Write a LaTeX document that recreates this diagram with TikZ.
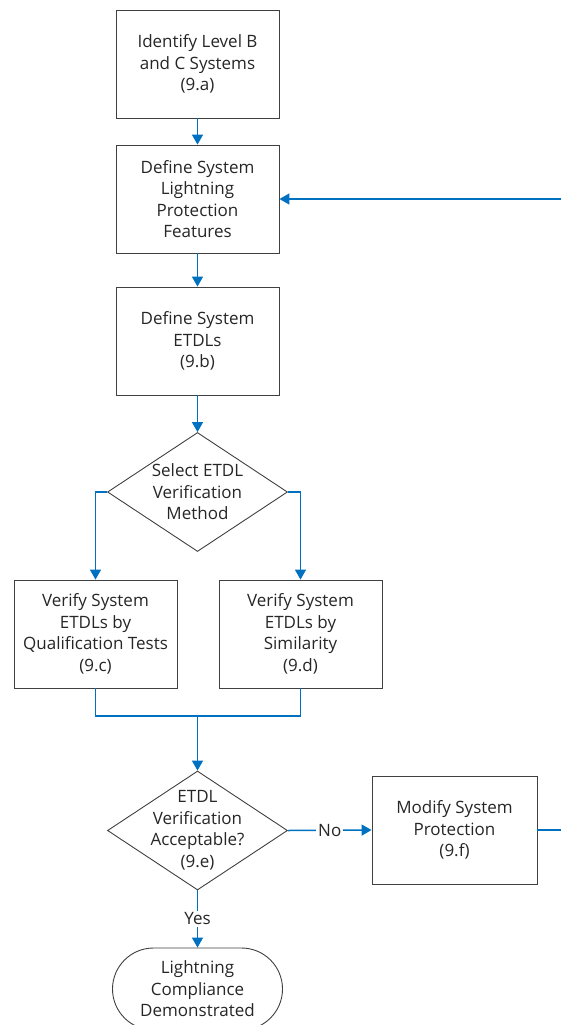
\documentclass[tikz,border=0pt]{standalone}
\usepackage{fontspec}
\setmainfont{Open Sans}
\usepackage{tikz}
\usetikzlibrary{arrows.meta, shapes.geometric, shapes.misc, positioning}
\definecolor{flowblue}{RGB}{0,112,192}
\tikzset{
	txt/.style={align=center, font=\fontsize{17}{21.5}\selectfont, text=black!85, inner sep=0pt},
	stepbox/.style={txt, draw=black!75, line width=0.9pt, minimum width=163pt, minimum height=108pt},
	decide/.style={diamond, draw=black!75, line width=0.9pt, minimum width=180pt, minimum height=119pt, inner sep=0pt},
	endbox/.style={txt, rounded rectangle, draw=black!75, line width=0.9pt, minimum width=170pt, minimum height=82pt},
	flow/.style={draw=flowblue, line width=1.5pt},
	flowarr/.style={flow, -{Triangle[length=10pt, width=11pt]}},
	lbl/.style={txt, fill=white, inner sep=2pt}
}
\begin{document}
\begin{tikzpicture}[x=1pt, y=-1pt]
			\useasboundingbox (0,0) rectangle (560,1025);
			\node[stepbox] (ident) at (197.5,64) {Identify Level B\\and C Systems\\(9.a)};
			\node[stepbox] (feat) at (197.5,199) {Define System\\Lightning\\Protection\\Features};
			\node[stepbox] (etdl) at (197.5,341) {Define System\\ETDLs\\(9.b)};
			\node[decide] (sel) at (197.5,492) {};
			\node[txt] at (sel) {Select ETDL\\Verification\\Method};
			\node[stepbox] (qual) at (95.5,634) {Verify System\\ETDLs by\\Qualification Tests\\(9.c)};
			\node[stepbox] (sim) at (300.5,634) {Verify System\\ETDLs by\\Similarity\\(9.d)};
			\node[decide] (acc) at (197.5,830.5) {};
			\node[txt] at (acc) {ETDL\\Verification\\Acceptable?\\(9.e)};
			\node[stepbox, minimum width=165pt] (mod) at (454.5,830) {Modify System\\Protection\\(9.f)};
			\node[endbox] (done) at (197.5,989) {Lightning\\Compliance\\Demonstrated};
			\coordinate (merge) at (197.5,716);
			\coordinate (back) at (565,830);
			\draw[flowarr] (ident) -- (feat);
			\draw[flowarr] (feat) -- (etdl);
			\draw[flowarr] (etdl) -- (sel);
			\draw[flowarr] (sel.west) -| (qual.north);
			\draw[flowarr] (sel.east) -| (sim.north);
			\draw[flow] (qual.south) |- (merge) -| (sim.south);
			\draw[flowarr] (merge) -- (acc.north);
			\draw[flowarr] (acc.east) -- node[lbl] {No} (mod.west);
			\draw[flowarr] (acc.south) -- node[lbl] {Yes} (done.north);
			\draw[flowarr] (mod.east) -- (back) |- (feat.east);
		\end{tikzpicture}
\end{document}
